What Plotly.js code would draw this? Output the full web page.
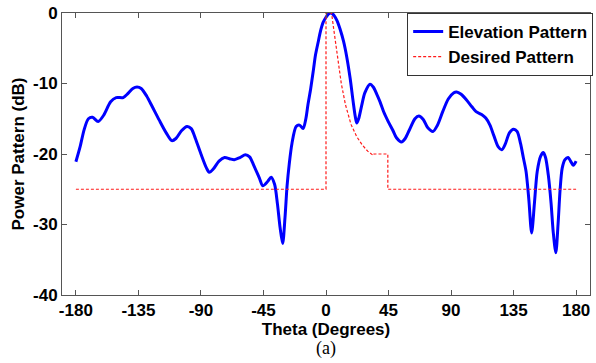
<!DOCTYPE html>
<html>
<head>
<meta charset="utf-8">
<script src="https://cdn.plot.ly/plotly-3.0.1.min.js"></script>
<style>html,body{margin:0;padding:0;background:#fff;}#chart{width:596px;height:363px;}</style>
</head>
<body>
<div id="chart"></div>
<script>
// Elevation pattern (theta in degrees, power in dB)
var elevTheta = [-180,-177,-174,-171,-168,-164,-160,-155,-151,-146,-143,-139,-136,-133,-129,-125,-120,-115,-111,-108,-104,-100,-97,-94,-90,-86,-84,-81,-77,-73,-69,-66,-62,-58,-55,-52,-48,-45.5,-42,-39.5,-37,-35,-33,-31.2,-29.5,-28,-26.5,-24.5,-21.5,-19,-16.5,-14.5,-13,-11,-9,-7.6,-5.5,-4,-2,0,2,3.8,6,8,10,12.6,15,17.4,19.5,21,22.1,23.5,25.7,28,31.7,34,36.5,38.9,41.5,44.8,48,50.7,54.3,57,60,64,66.8,70,73,77,80,84,88,92,94,97,101,105,108,112,115,118,121,124,126.5,129,132,135,137.5,140,142,144,146,148,150,152,154.5,156.4,158,160,162,163.5,165.4,167,168.5,170,172,174.3,176,178,180];
var elevDb = [-21.1,-19,-16.5,-15.0,-14.8,-15.4,-14.5,-12.6,-12.0,-12.0,-11.5,-10.7,-10.5,-10.7,-11.8,-13.3,-15.2,-17.0,-18.1,-17.8,-16.7,-16.1,-16.4,-17.8,-20.0,-22.0,-22.6,-22.1,-21.0,-20.5,-20.7,-20.8,-20.5,-20.1,-20.4,-21.6,-23.4,-24.5,-23.9,-23.3,-24.3,-27,-30.5,-32.7,-29,-24.5,-21.5,-18.5,-16.1,-15.9,-16.4,-15.0,-13,-10.7,-8.0,-6.0,-4.0,-2.6,-1.3,-0.6,-0.1,0,-0.4,-1.1,-2.2,-4.0,-6.3,-9.3,-12.5,-14.6,-15.6,-15.0,-13.1,-11.3,-10.1,-10.5,-11.5,-12.6,-14.0,-15.4,-16.6,-17.7,-18.3,-17.8,-16.6,-15.0,-14.6,-15.1,-16.2,-16.8,-16.0,-14.0,-12.2,-11.3,-11.2,-11.5,-12.3,-13.3,-14.0,-14.4,-14.9,-15.9,-17.5,-19.0,-19.4,-18.6,-17.0,-16.5,-16.8,-18.5,-20.5,-22.5,-26.5,-31.2,-27,-22.5,-20.3,-19.8,-20.5,-23,-27,-31,-34.0,-30,-25,-22,-20.8,-20.5,-21,-21.6,-21.0];

// Desired pattern
var desTheta = [-180,0,0,4,5.5,7,9,11,14,18,22,26,30,34,34.5,44.5,44.5,180];
var desDb = [-25,-25,0,0,-2.2,-4.5,-7.5,-10,-13,-15.8,-17.5,-18.7,-19.6,-20.2,-20,-20,-25,-25];

var xTicks = [-180,-135,-90,-45,0,45,90,135,180];
var yTicks = [0,-10,-20,-30,-40];

var boldFont = {family:'Arial, "Liberation Sans", sans-serif', size:17, color:'#000', weight:'bold'};

var traces = [
  {x: elevTheta, y: elevDb, type:'scatter', mode:'lines', name:'Elevation Pattern',
   line:{color:'#0000ff', width:3, shape:'spline', smoothing:0.8}},
  {x: desTheta, y: desDb, type:'scatter', mode:'lines', name:'Desired Pattern',
   line:{color:'#ff1a1a', width:1.2, dash:'3px,2px'}}
];

var layout = {
  width:596, height:363,
  margin:{l:62, r:3, t:13, b:68},
  paper_bgcolor:'#fff', plot_bgcolor:'#fff',
  showlegend:true,
  legend:{x:1.006, xanchor:'right', y:1, yanchor:'top', bgcolor:'#fff', bordercolor:'#333', borderwidth:1,
          font:{family:'Arial, "Liberation Sans", sans-serif', size:17, color:'#000', weight:'bold'},
          itemwidth:30, tracegroupgap:0},
  xaxis:{range:[-190,190], tickvals:xTicks, ticktext:xTicks.map(String), ticks:'inside', ticklen:5,
         tickcolor:'#555', showline:true, linecolor:'#555', linewidth:1, mirror:'ticks', showgrid:false, zeroline:false,
         tickfont:boldFont,
         title:{text:'Theta (Degrees)', font:boldFont, standoff:2}},
  yaxis:{range:[-40,0], tickvals:yTicks, ticktext:yTicks.map(String), ticks:'inside', ticklen:5,
         tickcolor:'#555', showline:true, linecolor:'#555', linewidth:1, mirror:'ticks', showgrid:false, zeroline:false,
         tickfont:boldFont,
         title:{text:'Power Pattern (dB)', font:boldFont, standoff:4}},
  annotations:[{text:'(a)', xref:'paper', yref:'paper', x:0.5, y:-0.191, xanchor:'center', yanchor:'middle',
                showarrow:false, font:{family:'"Liberation Serif", "Times New Roman", serif', size:18, color:'#000'}}]
};

Plotly.newPlot('chart', traces, layout, {displayModeBar:false, staticPlot:true});
</script>
</body>
</html>
